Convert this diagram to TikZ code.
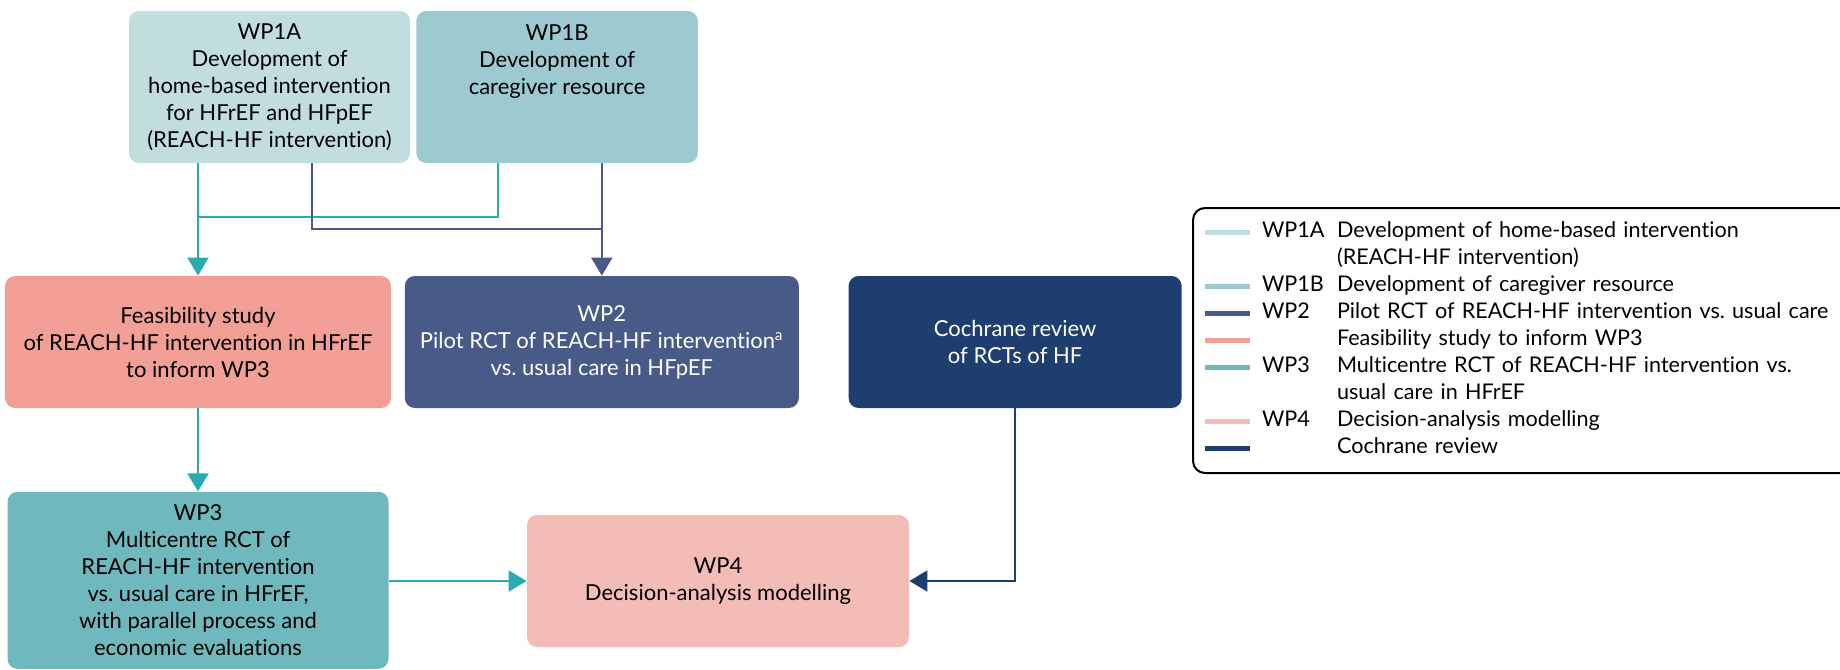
\documentclass[tikz,border=0pt]{standalone}
\usepackage{fontspec}
\setmainfont{Lato}[Ligatures=NoCommon]
\usetikzlibrary{arrows.meta,positioning}
\frenchspacing

\definecolor{wpAfill}{HTML}{C2DDE0}
\definecolor{wpBfill}{HTML}{9DCAD0}
\definecolor{feasfill}{HTML}{F2A096}
\definecolor{wptwofill}{HTML}{475A88}
\definecolor{cochfill}{HTML}{1D3E6E}
\definecolor{wpthreefill}{HTML}{6FB8BE}
\definecolor{wpfourfill}{HTML}{F4BCB7}
\definecolor{arrowteal}{HTML}{2AABB0}

\newcommand{\legsw}[1]{\textcolor{#1}{\rule[1.6pt]{22.5pt}{2.5pt}}}

\tikzset{
  wpbox/.style={rectangle, rounded corners=5pt, inner sep=0pt, align=center, font=\fontsize{11}{13.5}\selectfont},
  tealline/.style={draw=arrowteal, line width=1pt},
  navyline/.style={draw=wptwofill, line width=1pt},
  cochline/.style={draw=cochfill, line width=1pt},
  tip/.style={-{Triangle[length=9pt,width=10.5pt]}}
}

\begin{document}
\begin{tikzpicture}[x=0.5pt, y=-0.5pt]
\useasboundingbox (0,0) rectangle (1840,669);

\node [wpbox, fill=wpAfill, minimum width=140.5pt, minimum height=76pt] (wpA) at (269.5,87) {WP1A\\Development of\\home-based intervention\\for HFrEF and HFpEF\\(REACH-HF intervention)};
\node [wpbox, fill=wpBfill, minimum width=140.75pt, minimum height=76pt, right=2.75pt of wpA] (wpB) {WP1B\\Development of\\caregiver resource\\~\\~};
\node [wpbox, fill=feasfill, minimum width=193pt, minimum height=66pt] (feas) at (198,342) {Feasibility study\\of REACH-HF intervention in HFrEF\\to inform WP3};
\node [wpbox, fill=wptwofill, text=white, minimum width=197pt, minimum height=66pt, right=6.5pt of feas] (wptwo) {WP2\\Pilot RCT of REACH-HF intervention\textsuperscript{a}\\vs. usual care in HFpEF};
\node [wpbox, fill=cochfill, text=white, minimum width=166.5pt, minimum height=66pt, right=24.5pt of wptwo] (coch) {Cochrane review\\of RCTs of HF};
\node [wpbox, fill=wpthreefill, minimum width=190.5pt, minimum height=88.5pt, below=41.5pt of feas] (wpthree) {WP3\\Multicentre RCT of\\REACH-HF intervention\\vs. usual care in HFrEF,\\with parallel process and\\economic evaluations};
\node [wpbox, fill=wpfourfill, minimum width=191pt, minimum height=66pt] (wpfour) at (718,581) {WP4\\Decision-analysis modelling};

% legend
\node [wpbox, draw, line width=1pt, rounded corners=6pt, inner xsep=6pt, inner ysep=5.5pt, text width=317.5pt, align=left, anchor=north west, font=\fontsize{10.8}{13.5}\selectfont] (legend) at (1192,207) {%
\begin{tabular}{@{}p{22.5pt}@{\hspace{6pt}}p{37.5pt}@{}l@{}}
\legsw{wpAfill} & WP1A & Development of home-based intervention\\
 & & (REACH-HF intervention)\\
\legsw{wpBfill} & WP1B & Development of caregiver resource\\
\legsw{wptwofill} & WP2 & Pilot RCT of REACH-HF intervention vs. usual care\\
\legsw{feasfill} & & Feasibility study to inform WP3\\
\legsw{wpthreefill} & WP3 & Multicentre RCT of REACH-HF intervention vs.\\
 & & usual care in HFrEF\\
\legsw{wpfourfill} & WP4 & Decision-analysis modelling\\
\legsw{cochfill} & & Cochrane review
\end{tabular}};

\coordinate (tealjoin) at (198,217);
\coordinate (navyjoin) at (601,229);

\path [tealline, tip] (wpA.south -| feas.north) -- (feas.north);
\path [tealline] ([xshift=-29.5pt]wpB.south) |- (tealjoin);
\path [navyline] ([xshift=21.25pt]wpA.south) |- (navyjoin);
\path [navyline, tip] (wpB.south -| wptwo.north) -- (wptwo.north);
\path [tealline, tip] (feas.south) -- (wpthree.north -| feas.south);
\path [tealline, tip] (wpthree.east |- wpfour.west) -- (wpfour.west);
\path [cochline, tip] (coch.south) |- (wpfour.east);

\end{tikzpicture}
\end{document}
